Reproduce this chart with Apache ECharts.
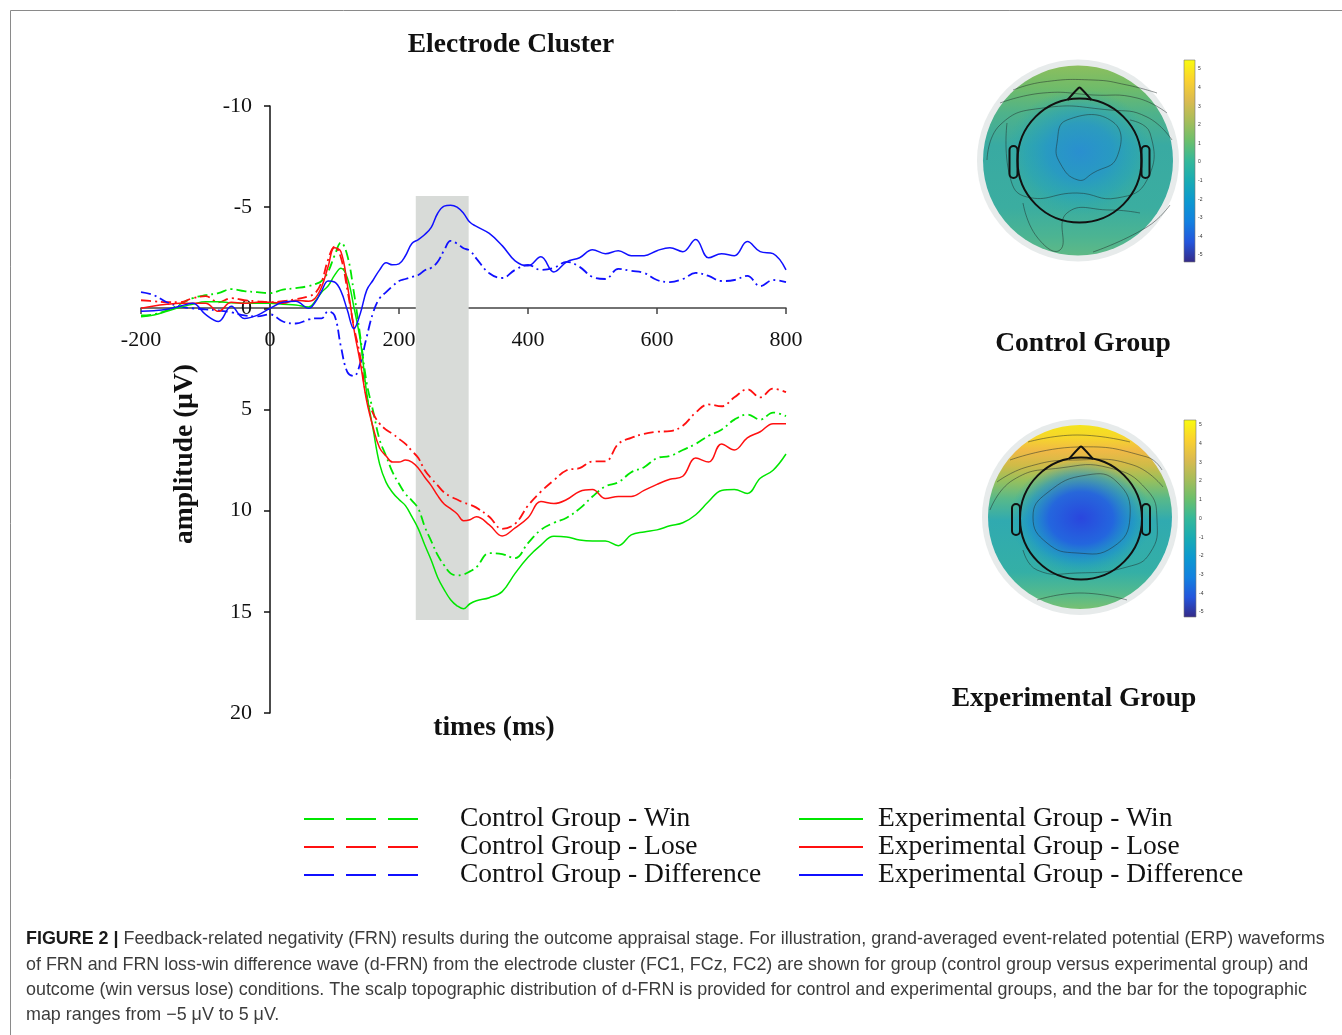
<!DOCTYPE html>
<html>
<head>
<meta charset="utf-8">
<script src="https://cdn.jsdelivr.net/npm/echarts@6/dist/echarts.min.js"></script>
<style>html,body{margin:0;padding:0;background:#fff;}#c{width:1342px;height:1035px;}</style>
</head>
<body>
<div id="c"></div>
<script>
// time points (ms)
const T = [-200,-180,-160,-140,-120,-100,-80,-60,-40,-20,0,20,40,60,
  70,80,90,100,110,120,130,140,150,160,170,180,190,200,210,220,230,240,250,260,270,280,290,300,310,320,
  340,360,380,400,420,440,460,480,500,520,540,560,580,600,620,640,660,680,700,720,740,760,780,800];

const expWin = [0.42,0.33,0.15,-0.05,-0.2,-0.33,-0.33,-0.27,-0.25,-0.25,-0.25,-0.2,-0.17,-0.07,
  -0.35,-0.8,-1.1,-1.63,-1.98,-1.5,-0.07,1.58,4.2,6.0,7.7,8.6,9.1,9.45,9.75,10.3,10.9,11.7,12.45,13.3,13.9,14.4,14.7,14.85,14.6,14.45,
  14.3,14.0,13.1,12.3,11.7,11.27,11.3,11.45,11.5,11.5,11.73,11.2,11.05,10.95,10.75,10.6,10.2,9.55,9.0,8.95,9.15,8.4,8.0,7.2];

const ctrlWin = [0.35,0.3,0.1,-0.2,-0.5,-0.65,-0.75,-0.95,-0.85,-0.8,-0.75,-0.92,-1.0,-1.1,
  -1.2,-1.35,-1.8,-2.6,-3.25,-2.6,-0.8,1.4,3.7,5.1,6.5,7.3,8.1,8.67,9.17,9.5,9.9,10.8,11.5,12.2,12.7,13.1,13.2,13.15,13.0,12.8,
  12.1,12.15,12.35,11.6,10.95,10.6,10.35,9.9,9.3,8.8,8.6,8.1,7.85,7.4,7.3,7.0,6.7,6.3,6.0,5.5,5.25,5.5,5.15,5.33];

const expLose = [0.0,-0.12,-0.2,-0.25,-0.25,-0.25,0.15,-0.3,-0.25,-0.3,-0.3,-0.25,-0.4,-0.35,
  -0.5,-1.05,-2.05,-3.0,-2.8,-1.15,1.0,2.7,4.6,5.9,6.9,7.3,7.6,7.6,7.5,7.6,7.9,8.35,8.76,9.26,9.67,9.9,10.15,10.5,10.45,10.3,
  10.7,11.25,10.85,10.35,9.55,9.65,9.45,9.05,8.96,9.4,9.3,9.3,9.0,8.7,8.45,8.3,7.4,7.6,6.7,7.0,6.4,6.1,5.7,5.7];

const ctrlLose = [-0.4,-0.35,-0.3,-0.3,-0.5,-0.6,-0.3,-0.5,-0.4,-0.35,-0.3,-0.35,-0.45,-0.6,
  -0.75,-1.3,-2.4,-3.05,-2.5,-0.9,0.9,2.4,4.4,5.2,5.7,6.0,6.2,6.45,6.7,7.05,7.4,8.0,8.4,8.75,9.1,9.3,9.45,9.6,9.7,9.85,
  10.3,10.9,10.65,9.75,9.06,8.5,8.0,7.9,7.57,7.56,6.7,6.4,6.2,6.1,6.07,5.8,5.15,4.75,4.84,4.4,4.0,4.4,3.97,4.14];

const expDiff = [0.15,0.12,0.05,-0.1,-0.25,0.3,0.65,-0.1,0.5,0.35,0.0,-0.3,-0.35,0.0,
  -0.3,-0.85,-1.35,-1.3,-0.85,0.1,1.0,0.25,-0.9,-1.4,-1.9,-2.25,-2.15,-2.2,-2.6,-3.2,-3.4,-3.65,-4.0,-4.7,-5.05,-5.1,-5.0,-4.7,-4.25,-4.05,
  -3.7,-3.1,-2.35,-2.1,-2.55,-1.8,-2.3,-2.5,-2.9,-2.7,-2.85,-2.6,-2.6,-2.85,-3.0,-2.8,-3.4,-2.5,-2.7,-2.6,-3.3,-2.8,-2.7,-1.9];

const ctrlDiff = [-0.8,-0.65,-0.3,-0.1,0.0,0.05,0.1,0.2,0.35,0.4,0.3,0.65,0.75,0.55,
  0.5,0.5,0.15,0.35,1.9,3.15,3.35,2.7,1.4,0.2,-0.5,-0.8,-1.1,-1.35,-1.45,-1.55,-1.65,-1.88,-2.0,-2.3,-2.87,-3.33,-3.2,-2.97,-2.85,-2.46,
  -1.73,-1.5,-1.9,-2.15,-1.9,-2.0,-2.3,-2.05,-1.55,-1.45,-1.95,-1.85,-1.75,-1.4,-1.3,-1.45,-1.75,-1.6,-1.35,-1.4,-1.6,-1.1,-1.4,-1.3];

// shaded time window [ms] and amplitude extent
const windowMs = [226, 308];
const windowAmp = [-5.55, 15.4];

const xTicks = {min: -200, max: 800, interval: 200};
const yTicks = {min: -10, max: 20, interval: 5};
const colorbarTicks = [5,4,3,2,1,0,-1,-2,-3,-4,-5];

const names = ['Control Group - Win','Control Group - Lose','Control Group - Difference',
               'Experimental Group - Win','Experimental Group - Lose','Experimental Group - Difference'];

const GREEN = '#00e600', RED = '#ff1010', BLUE = '#1010ff';
const SERIF = '"Liberation Serif","Times New Roman",serif';
const SANS = '"Liberation Sans",Arial,sans-serif';

function pairs(arr){ return T.map((t,i)=>[t, arr[i]]); }

const dashDot = [10,4,2,4];
function mk(name, arr, color, dashed){
  return {name, type:'line', data: pairs(arr), smooth: 0.4, symbol:'none', showSymbol:false, z: 3,
    lineStyle:{color, width: dashed ? 1.8 : 1.5, type: dashed ? dashDot : 'solid'},
    itemStyle:{color}};
}

const chart = echarts.init(document.getElementById('c'), null, {renderer:'canvas'});

// ---------- topographic maps (decorative imagery) ----------
function LG(stops){ return new echarts.graphic.LinearGradient(0,0,0,1, stops.map(s=>({offset:s[0], color:s[1]}))); }
function RG(stops){ return new echarts.graphic.RadialGradient(0.5,0.5,0.5, stops.map(s=>({offset:s[0], color:s[1]}))); }
const parula = [[0,'#f9fb0e'],[0.1,'#fbd22e'],[0.2,'#dcbb4f'],[0.3,'#a8bd5a'],[0.4,'#6cbf6c'],[0.5,'#34b89a'],
                [0.6,'#18abb4'],[0.7,'#0c98d0'],[0.8,'#1380e0'],[0.9,'#2455dc'],[1,'#352a87']];
const contourStyle = {stroke:'rgba(30,40,40,0.55)', fill:null, lineWidth:0.9};

function headParts(cx, cy, r, noseTop, earTop, earBot){
  return [
    {type:'circle', shape:{cx, cy, r}, style:{fill:null, stroke:'#111', lineWidth:2}, z:20},
    {type:'polyline', shape:{points:[[cx-12, cy-r+1.5],[cx-1, noseTop],[cx+1, noseTop],[cx+12, cy-r+1.5]], smooth:0.3}, style:{fill:null, stroke:'#111', lineWidth:2}, z:20},
    {type:'rect', shape:{x:cx-r-8, y:earTop, width:8, height:earBot-earTop, r:4}, style:{fill:null, stroke:'#111', lineWidth:2}, z:20},
    {type:'rect', shape:{x:cx+r, y:earTop, width:8, height:earBot-earTop, r:4}, style:{fill:null, stroke:'#111', lineWidth:2}, z:20}
  ];
}
function colorbar(x, y, w, h, yTop, yBot){
  const els = [{type:'rect', shape:{x, y, width:w, height:h}, style:{fill:LG(parula), stroke:'#777', lineWidth:0.6}, z:10}];
  colorbarTicks.forEach((v,i)=>{
    const yy = yTop + (yBot - yTop) * i / (colorbarTicks.length - 1);
    els.push({type:'text', x: x + w + 3, y: yy, style:{text: String(v), fontSize:5, fill:'#333', verticalAlign:'middle', fontFamily:'Liberation Sans'}, z:11});
  });
  return els;
}
function poly(points, closed){
  return {type: closed ? 'polygon' : 'polyline', shape:{points, smooth:0.5}, style:Object.assign({}, contourStyle), z:15};
}

const topo = [];
// Control group map
topo.push({type:'circle', shape:{cx:1078, cy:160.5, r:101}, style:{fill:'#e7ebeb'}, z:5});
topo.push({type:'circle', shape:{cx:1078, cy:160.5, r:95}, style:{fill:LG([[0,'#8cbf5e'],[0.12,'#6fbb6a'],[0.25,'#4fb28a'],[0.42,'#39aaa2'],[0.75,'#3badA0'],[0.9,'#4cb492'],[1,'#5fb986']])}, z:6});
topo.push({type:'circle', shape:{cx:0, cy:0, r:70}, x:1080, y:152, scaleX:1.05, scaleY:0.9,
  style:{fill:RG([[0,'rgba(40,140,212,0.9)'],[0.45,'rgba(34,148,206,0.72)'],[0.75,'rgba(32,160,194,0.4)'],[1,'rgba(40,170,170,0)']])}, z:7});
topo.push(poly([[1013,90],[1043,82],[1093,80],[1127,85],[1157,93]]));
topo.push(poly([[1000,103],[1043,93],[1093,95],[1137,98],[1167,113]]));
topo.push(poly([[987,160],[1000,125],[1043,108],[1110,110],[1147,117],[1172,140]]));
topo.push(poly([[1067,120],[1113,122],[1117,157],[1093,173],[1078,180],[1060,163],[1057,143]], true));
topo.push(poly([[1130,120],[1150,133],[1147,180],[1117,198],[1077,193],[1027,197],[1010,177],[1007,123]]));
topo.push(poly([[1023,203],[1037,237],[1060,250],[1067,213],[1110,210],[1140,213]]));
topo.push(poly([[1093,252],[1147,227],[1170,205]]));
headParts(1079.5, 160.5, 62, 88, 146, 178).forEach(e=>topo.push(e));
colorbar(1184, 60, 11, 202, 69, 255).forEach(e=>topo.push(e));

// Experimental group map
topo.push({type:'circle', shape:{cx:1080, cy:517, r:98}, style:{fill:'#e7ebeb'}, z:5});
topo.push({type:'circle', shape:{cx:1080, cy:517, r:92}, style:{fill:LG([[0,'#f4e41c'],[0.07,'#f6d52c'],[0.14,'#f0b946'],[0.22,'#cfbb48'],[0.3,'#98c05c'],[0.4,'#58b98a'],[0.52,'#30aab0'],[0.8,'#34afa6'],[0.92,'#55ba8c'],[1,'#78c072']])}, z:6});
topo.push({type:'circle', shape:{cx:0, cy:0, r:66}, x:1081, y:518, scaleX:1.08, scaleY:0.88,
  style:{fill:RG([[0,'rgba(42,70,222,1)'],[0.45,'rgba(34,96,226,0.92)'],[0.75,'rgba(24,140,212,0.55)'],[1,'rgba(30,165,185,0)']])}, z:7});
topo.push(poly([[1028,442],[1077,435],[1130,442]]));
topo.push(poly([[1010,460],[1077,447],[1147,457],[1162,470]]));
topo.push(poly([[997,482],[1027,467],[1077,460],[1133,465],[1163,487]]));
topo.push(poly([[990,510],[1013,480],[1060,468],[1110,468],[1147,490],[1157,520],[1150,553],[1127,567],[1077,573],[1037,570],[1023,550]]));
topo.push(poly([[1047,493],[1087,475],[1117,482],[1130,517],[1113,547],[1077,553],[1047,543],[1033,517]], true));
topo.push(poly([[1037,600],[1080,593],[1127,600]]));
headParts(1081, 518.5, 61, 447, 504, 535).forEach(e=>topo.push(e));
colorbar(1184, 420, 12, 197, 425, 612).forEach(e=>topo.push(e));

// ---------- texts ----------
const BIG = 27.5;
const texts = [
  {type:'rect', shape:{x:10.5, y:10.5, width:1340, height:1030}, style:{fill:null, stroke:'#8a8a8a', lineWidth:1}, z:1},
  {type:'text', x:511, y:45, style:{text:'Electrode Cluster', fontFamily:SERIF, fontWeight:'bold', fontSize:BIG, fill:'#111', align:'center', verticalAlign:'middle'}},
  {type:'text', x:185, y:454, rotation:Math.PI/2, style:{text:'amplitude (μV)', fontFamily:SERIF, fontWeight:'bold', fontSize:BIG, fill:'#111', align:'center', verticalAlign:'middle'}},
  {type:'text', x:494, y:728, style:{text:'times (ms)', fontFamily:SERIF, fontWeight:'bold', fontSize:BIG, fill:'#111', align:'center', verticalAlign:'middle'}},
  {type:'text', x:1083, y:344, style:{text:'Control Group', fontFamily:SERIF, fontWeight:'bold', fontSize:BIG, fill:'#111', align:'center', verticalAlign:'middle'}},
  {type:'text', x:1074, y:699, style:{text:'Experimental Group', fontFamily:SERIF, fontWeight:'bold', fontSize:BIG, fill:'#111', align:'center', verticalAlign:'middle'}}
];
const caption = [
  'Feedback-related negativity (FRN) results during the outcome appraisal stage. For illustration, grand-averaged event-related potential (ERP) waveforms',
  'of FRN and FRN loss-win difference wave (d-FRN) from the electrode cluster (FC1, FCz, FC2) are shown for group (control group versus experimental group) and',
  'outcome (win versus lose) conditions. The scalp topographic distribution of d-FRN is provided for control and experimental groups, and the bar for the topographic',
  'map ranges from −5 μV to 5 μV.'
];
const capY = [939, 965, 990, 1015];
caption.forEach((line, i)=>{
  texts.push({type:'text', x:26, y:capY[i], style:{
    text: i === 0 ? '{b|FIGURE 2 |} ' + line : line,
    fontFamily:SANS, fontSize:17.9, fill:'#3c3c3c', verticalAlign:'middle',
    rich:{b:{fontFamily:SANS, fontWeight:'bold', fontSize:17.9, fill:'#1a1a1a'}}
  }});
});

const option = {
  animation:false,
  backgroundColor:'#fff',
  grid:{left:141, top:106, width:645, height:607, containLabel:false},
  xAxis:{type:'value', min:xTicks.min, max:xTicks.max, interval:xTicks.interval, position:'bottom', offset:-405,
    axisLine:{onZero:false, lineStyle:{color:'#444', width:1.5}},
    axisTick:{show:true, length:6, lineStyle:{color:'#444', width:1.5}},
    splitLine:{show:false},
    axisLabel:{fontFamily:SERIF, fontSize:22, color:'#111', margin:21}},
  yAxis:{type:'value', inverse:true, min:yTicks.min, max:yTicks.max, interval:yTicks.interval, position:'left', offset:-129,
    axisLine:{show:true, onZero:false, lineStyle:{color:'#111', width:1.5}},
    axisTick:{show:true, length:6, lineStyle:{color:'#111', width:1.5}},
    splitLine:{show:false},
    axisLabel:{fontFamily:SERIF, fontSize:22, color:'#111', margin:18}},
  legend:[
    {data:names.slice(0,3), orient:'vertical', left:298, top:800, itemWidth:115, itemHeight:14, itemGap:0,
     selectedMode:false, itemStyle:{opacity:0}, lineStyle:{type:[30,12], width:2},
     textStyle:{fontFamily:SERIF, fontSize:BIG, color:'#111', lineHeight:28, padding:[0,0,0,36]}},
    {data:names.slice(3), orient:'vertical', left:793, top:800, itemWidth:64, itemHeight:14, itemGap:0,
     selectedMode:false, itemStyle:{opacity:0}, lineStyle:{type:'solid', width:2},
     textStyle:{fontFamily:SERIF, fontSize:BIG, color:'#111', lineHeight:28, padding:[0,0,0,10]}}
  ],
  series:[
    {type:'line', name:'window', data:[], z:1, silent:true,
     markArea:{silent:true, itemStyle:{color:'#d8dbd8'},
       data:[[{coord:[windowMs[0], windowAmp[0]]},{coord:[windowMs[1], windowAmp[1]]}]]}},
    mk(names[0], ctrlWin, GREEN, true),
    mk(names[1], ctrlLose, RED, true),
    mk(names[2], ctrlDiff, BLUE, true),
    mk(names[3], expWin, GREEN, false),
    mk(names[4], expLose, RED, false),
    mk(names[5], expDiff, BLUE, false)
  ],
  graphic: texts.concat(topo)
};
chart.setOption(option);
</script>
</body>
</html>
